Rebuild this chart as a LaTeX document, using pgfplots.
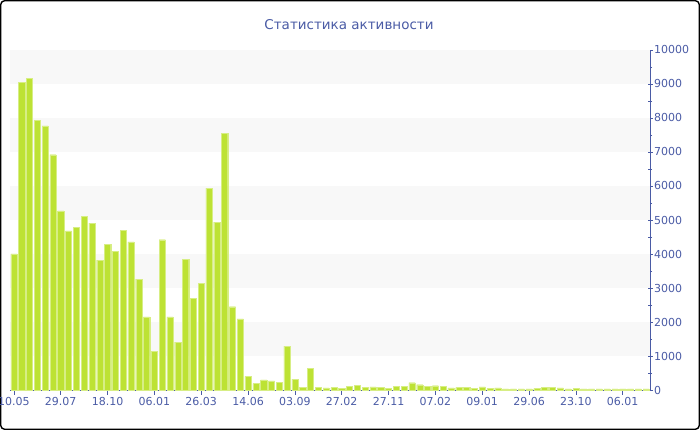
\documentclass[border=0pt]{standalone}
\usepackage{fontspec}
\setmainfont{DejaVu Sans}
\usepackage{pgfplots}
\pgfplotsset{compat=1.18}
\definecolor{barc}{HTML}{BDE234}
\definecolor{axc}{HTML}{4A5BA5}
\definecolor{band}{HTML}{F8F8F8}
\begin{document}
\begin{tikzpicture}
\useasboundingbox (0,0) rectangle (700pt,430pt);
\draw[black, line width=1.4pt, rounded corners=4pt] (0.7pt,0.7pt) rectangle (699.3pt,429.3pt);
\node[text=axc, font=\fontsize{13.5}{16}\selectfont] at (349pt,405pt) {Статистика активности};
\begin{axis}[
  at={(10pt,40pt)}, anchor=south west,
  width=640pt, height=340pt, scale only axis,
  xmin=-0.5, xmax=81.5, ymin=0, ymax=10000,
  axis x line*=bottom, axis y line*=right,
  axis line style={axc, line width=0.8pt},
  ytick={0,1000,...,10000},
  minor ytick={500,1500,...,9500},
  xtick={0,6,...,78},
  xticklabels={10.05,29.07,18.10,06.01,26.03,14.06,03.09,27.02,27.11,07.02,09.01,29.06,23.10,06.01},
  tick style={axc, line width=0.6pt},
  xtick align=outside, ytick align=center,
  major tick length=5pt, minor tick length=4pt,
  ticklabel style={text=axc, font=\fontsize{11}{13}\selectfont},
  /pgf/number format/assume math mode=true,
  /pgf/number format/1000 sep={},
  scaled y ticks=false,
  yticklabel style={xshift=-2pt},
  xticklabel style={yshift=1pt},
  clip=false,
]
\fill[band] (axis cs:-0.5,9000) rectangle (axis cs:81.5,10000);
\fill[band] (axis cs:-0.5,7000) rectangle (axis cs:81.5,8000);
\fill[band] (axis cs:-0.5,5000) rectangle (axis cs:81.5,6000);
\fill[band] (axis cs:-0.5,3000) rectangle (axis cs:81.5,4000);
\fill[band] (axis cs:-0.5,1000) rectangle (axis cs:81.5,2000);
\addplot[ybar, bar width=6.2pt, fill=barc, draw=barc!60!white, line width=0.3pt] coordinates {
(0,4000) (1,9050) (2,9170) (3,7940) (4,7770) (5,6920) (6,5270) (7,4680) (8,4780) (9,5110)
(10,4910) (11,3820) (12,4280) (13,4080) (14,4690) (15,4360) (16,3260) (17,2150) (18,1130) (19,4420)
(20,2150) (21,1410) (22,3850) (23,2700) (24,3130) (25,5940) (26,4940) (27,7540) (28,2450) (29,2090)
(30,400) (31,190) (32,300) (33,265) (34,235) (35,1290) (36,320) (37,70) (38,640) (39,70)
(40,60) (41,70) (42,40) (43,100) (44,135) (45,70) (46,90) (47,70) (48,50) (49,100)
(50,110) (51,215) (52,155) (53,100) (54,125) (55,100) (56,60) (57,70) (58,70) (59,40)
(60,90) (61,40) (62,60) (63,30) (64,30) (65,30) (66,30) (67,40) (68,70) (69,70)
(70,60) (71,30) (72,40) (73,30) (74,30) (75,30) (76,30) (77,30) (78,30) (79,30)
(80,30) (81,30)
};
\end{axis}
\end{tikzpicture}
\end{document}
